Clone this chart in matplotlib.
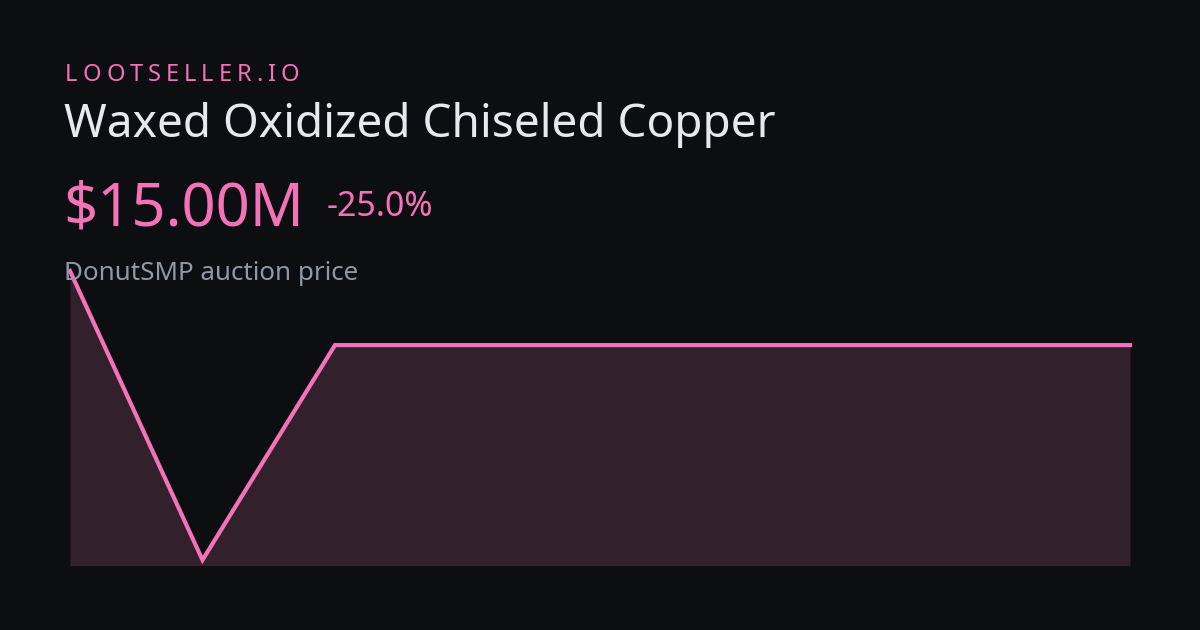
import matplotlib
matplotlib.use('Agg')
import matplotlib.pyplot as plt

# dados (milhões)
pontos = [0, 1, 2, 3, 4, 5, 6, 7, 8]
precos = [20.0, 0.5, 15.0, 15.0, 15.0, 15.0, 15.0, 15.0, 15.0]
marca = 'LOOTSELLER.IO'
titulo = 'Waxed Oxidized Chiseled Copper'
preco_txt = '$15.00M'
variacao_txt = '-25.0%'
legenda = 'DonutSMP auction price'

FUNDO = '#0d0e12'
ROSA = '#f472b6'
PREENCHIMENTO = '#33202d'

plt.rcParams['font.family'] = ['Noto Sans', 'DejaVu Sans']

W, H = 1200, 630
fig = plt.figure(figsize=(W / 100, H / 100), dpi=100, facecolor=FUNDO)

# área do gráfico: x 70..1130, y 271..565 (pixels)
ax = fig.add_axes([70 / W, 1 - 565 / H, 1060 / W, (565 - 271) / H])
ax.set_facecolor(FUNDO)
ax.fill_between(pontos, precos, -10, color=PREENCHIMENTO, lw=0)
ax.plot(pontos, precos, color=ROSA, lw=3, clip_on=False, solid_joinstyle='miter')
ax.set_xlim(pontos[0], pontos[-1])
topo = max(precos)
base = min(precos)
ax.set_ylim(base - (topo - base) * 5 / 289, topo)
ax.axis('off')

# marca com espaçamento entre letras
fig.canvas.draw()
r = fig.canvas.get_renderer()
x = 65
for c in marca:
    t = fig.text(x / W, 1 - 81 / H, c, fontsize=17, color=ROSA, va='baseline')
    larg = t.get_window_extent(r).width
    x += larg + 5.0

fig.text(64 / W, 1 - 137 / H, titulo, fontsize=33.1, color='#e8e9ee', va='baseline')
fig.text(63 / W, 1 - 225 / H, preco_txt, fontsize=43, color=ROSA, va='baseline')
fig.text(327 / W, 1 - 216 / H, variacao_txt, fontsize=24.4, color=ROSA, va='baseline')
fig.text(64 / W, 1 - 280 / H, legenda, fontsize=18.7, color='#9199a8', va='baseline')

fig.savefig('out.png', dpi=100, facecolor=FUNDO)
